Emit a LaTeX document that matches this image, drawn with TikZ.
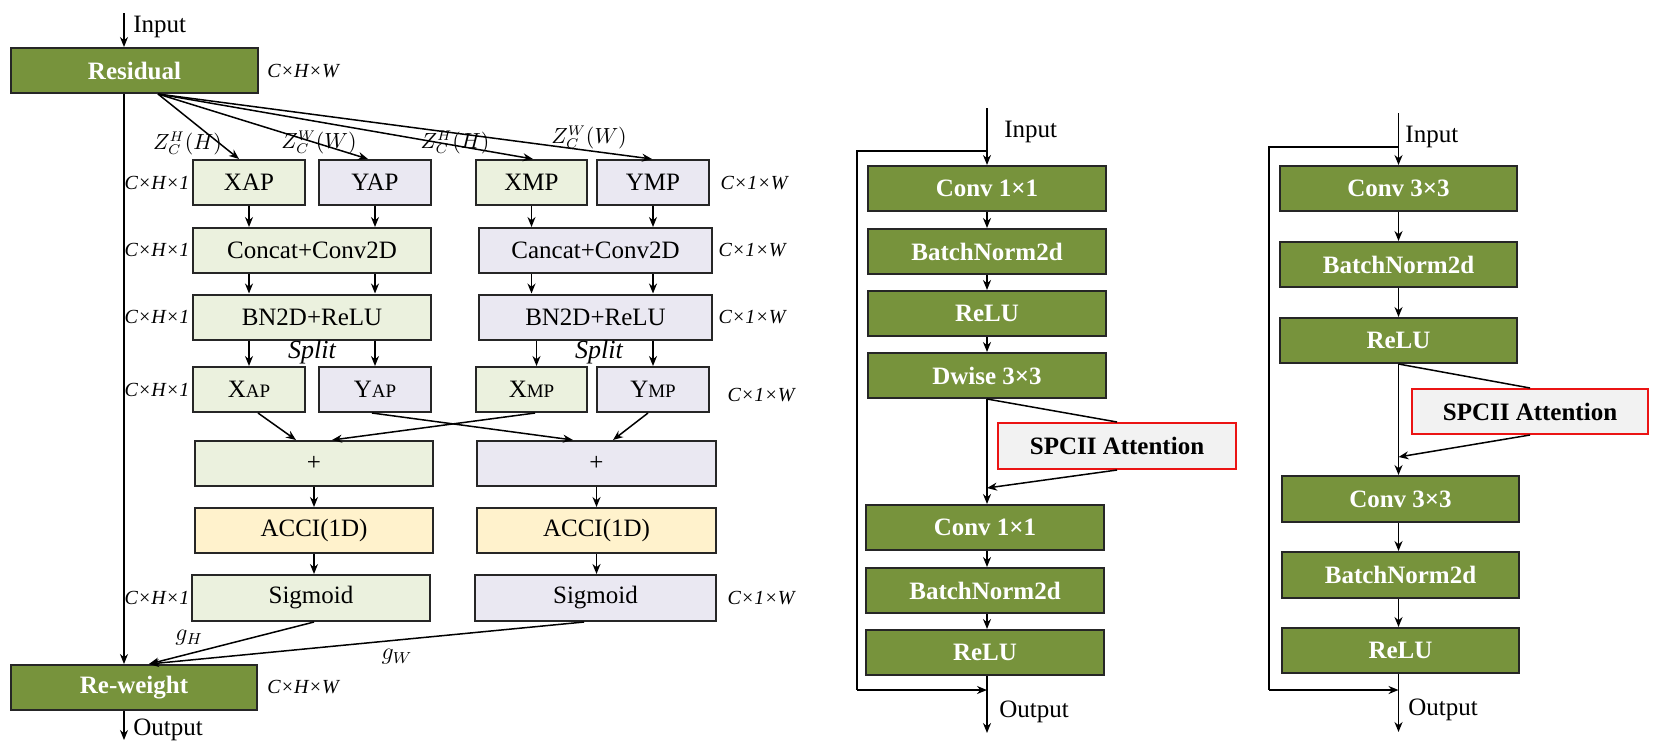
\documentclass[tikz,border=0pt]{standalone}
\usepackage{fontspec}
\setmainfont{Liberation Serif}
\usetikzlibrary{arrows.meta,calc}
\definecolor{NetGreen}{RGB}{119,147,60}
\definecolor{NetLightGreen}{RGB}{235,241,222}
\definecolor{NetLavender}{RGB}{234,232,242}
\definecolor{NetYellow}{RGB}{255,242,204}
\definecolor{NetGrey}{RGB}{242,242,242}
\definecolor{NetRed}{RGB}{235,20,20}

\tikzset{
  unitbox/.style={draw=black!85, line width=1pt, minimum height=22.5pt, inner sep=0pt, font=\fontsize{12.5}{14}\selectfont},
  greenbox/.style={unitbox, fill=NetGreen, text=white, font=\fontsize{12.5}{14}\selectfont\bfseries},
  hbox/.style={unitbox, fill=NetLightGreen},
  wbox/.style={unitbox, fill=NetLavender},
  accibox/.style={unitbox, fill=NetYellow},
  attbox/.style={unitbox, draw=NetRed, fill=NetGrey, font=\fontsize{12.5}{14}\selectfont\bfseries},
  dimlabel/.style={font=\fontsize{10}{12}\selectfont\itshape, inner sep=0pt},
  zlabel/.style={font=\fontsize{10.5}{12}\selectfont, inner sep=0pt},
  txt/.style={font=\fontsize{12.5}{14}\selectfont, inner sep=0pt, anchor=west},
  arr/.style={-{Stealth[length=5pt,width=4pt]}, line width=0.75pt},
  ln/.style={line width=0.75pt},
}
\newcommand{\smallsub}[1]{{\fontsize{9.5}{10}\selectfont #1}}

\begin{document}
\begin{tikzpicture}[x=0.5pt, y=-0.5pt]
  \useasboundingbox (0,0) rectangle (1657,745);

  % coordinate attention block
  \node[greenbox, minimum width=123.5pt] (res) at (134.5,70.5) {Residual};
  \node[dimlabel] (resdim) at (303,71) {C×H×W};
  \coordinate (inres) at (124,13);
  \node[txt] (intxt) at (133,27) {Input};
  \draw[arr] (inres) -- (inres |- res.north);

  \node[hbox, minimum width=56pt] (xap) at (249,182.5) {XAP};
  \node[wbox, minimum width=56pt] (yap) at (375,182.5) {YAP};
  \node[hbox, minimum width=55.5pt] (xmp) at (531.5,182.5) {XMP};
  \node[wbox, minimum width=56pt] (ymp) at (653,182.5) {YMP};

  \node[hbox, minimum width=119pt] (cch) at (312,250.5) {Concat+Conv2D};
  \node[wbox, minimum width=116.5pt] (ccw) at (595.5,250.5) {Cancat+Conv2D};
  \node[hbox, minimum width=119pt] (bnh) at (312,317) {BN2D+ReLU};
  \node[wbox, minimum width=116.5pt] (bnw) at (595.5,317) {BN2D+ReLU};

  \node[hbox, minimum width=56pt] (xaps) at (249,389.5) {X\smallsub{AP}};
  \node[wbox, minimum width=56pt] (yaps) at (375,389.5) {Y\smallsub{AP}};
  \node[hbox, minimum width=55.5pt] (xmps) at (531.5,389.5) {X\smallsub{MP}};
  \node[wbox, minimum width=56pt] (ymps) at (653,389.5) {Y\smallsub{MP}};

  \node[hbox, minimum width=119pt] (addh) at (314,463.5) {+};
  \node[wbox, minimum width=119.5pt] (addw) at (596.5,463.5) {+};
  \node[accibox, minimum width=119pt] (accih) at (314,530.5) {ACCI(1D)};
  \node[accibox, minimum width=119.5pt] (acciw) at (596.5,530.5) {ACCI(1D)};
  \node[hbox, minimum width=119pt, minimum height=23pt] (sigh) at (311,598) {Sigmoid};
  \node[wbox, minimum width=120.5pt, minimum height=23pt] (sigw) at (595.5,598) {Sigmoid};

  \node[greenbox, minimum width=123pt] (rew) at (134,687.5) {Re-weight};
  \node[dimlabel] (rewdim) at (303,687) {C×H×W};
  \coordinate (outl) at (124,740);
  \node[txt] (outtxt) at (133,730) {Output};

  % size labels
  \node[dimlabel] (dha) at (157,183) {C×H×1};
  \node[dimlabel] (dhb) at (157,250) {C×H×1};
  \node[dimlabel] (dhc) at (157,317) {C×H×1};
  \node[dimlabel] (dhd) at (157,390) {C×H×1};
  \node[dimlabel] (dhe) at (157,598) {C×H×1};
  \node[dimlabel] (dwa) at (754,183) {C×1×W};
  \node[dimlabel] (dwb) at (752,250) {C×1×W};
  \node[dimlabel] (dwc) at (752,317) {C×1×W};
  \node[dimlabel] (dwd) at (761,395) {C×1×W};
  \node[dimlabel] (dwe) at (761,598) {C×1×W};

  % pooling fan
  \coordinate (fan) at ($(res.south)+(23.5,0)$);
  \draw[arr] (fan) -- ($(xap.north)+(-10,0)$);
  \draw[arr] (fan) -- ($(yap.north)+(-7,0)$);
  \draw[arr] (fan) -- ($(xmp.north)+(1.5,0)$);
  \draw[arr] (fan) -- ($(ymp.north)+(-1,0)$);
  \node[zlabel] (zha) at (187.5,143) {$Z_C^H(H)$};
  \node[zlabel] (zwa) at (319,142) {$Z_C^W(W)$};
  \node[zlabel] (zhb) at (455,142) {$Z_C^H(H)$};
  \node[zlabel] (zwb) at (589,137) {$Z_C^W(W)$};

  \draw[arr] (res.south -| inres) -- (rew.north -| inres);

  \draw[arr] (xap.south) -- (xap.south |- cch.north);
  \draw[arr] (yap.south) -- (yap.south |- cch.north);
  \draw[arr] (xmp.south) -- (xmp.south |- ccw.north);
  \draw[arr] (ymp.south) -- (ymp.south |- ccw.north);
  \draw[arr] (cch.south -| xap) -- (bnh.north -| xap);
  \draw[arr] (cch.south -| yap) -- (bnh.north -| yap);
  \draw[arr] (ccw.south -| xmp) -- (bnw.north -| xmp);
  \draw[arr] (ccw.south -| ymp) -- (bnw.north -| ymp);
  \draw[arr] (bnh.south -| xaps) -- (xaps.north);
  \draw[arr] (bnh.south -| yaps) -- (yaps.north);
  \draw[arr] ($(bnw.south -| xmps)+(5,0)$) -- ($(xmps.north)+(5,0)$);
  \draw[arr] (bnw.south -| ymps) -- (ymps.north);
  \node[font=\fontsize{13}{14}\selectfont\itshape, inner sep=0pt] (splh) at (312,352) {Split};
  \node[font=\fontsize{13}{14}\selectfont\itshape, inner sep=0pt] (splw) at (599,352) {Split};

  \draw[arr] ($(xaps.south)+(9,0)$) -- ($(addh.north)+(-18,0)$);
  \draw[arr] ($(yaps.south)+(-3,0)$) -- ($(addw.north)+(-23.5,0)$);
  \draw[arr] ($(xmps.south)+(3.5,0)$) -- ($(addh.north)+(18,0)$);
  \draw[arr] ($(ymps.south)+(-5,0)$) -- ($(addw.north)+(16.5,0)$);

  \draw[arr] (addh.south) -- (accih.north);
  \draw[arr] (addw.south) -- (acciw.north);
  \draw[arr] (accih.south) -- (accih.south |- sigh.north);
  \draw[arr] (acciw.south) -- (acciw.south |- sigw.north);

  \coordinate (gin) at ($(rew.north)+(15,0)$);
  \draw[arr] ($(sigh.south)+(3,0)$) -- (gin);
  \draw[arr] ($(sigw.south)+(-11.5,0)$) -- (gin);
  \node[font=\fontsize{12}{14}\selectfont, inner sep=0pt] (gh) at (189,638) {$g_H$};
  \node[font=\fontsize{12}{14}\selectfont, inner sep=0pt] (gw) at (397,657) {$g_W$};

  \draw[arr] (rew.south -| outl) -- (outl);

  % inverted residual block
  \node[greenbox, minimum width=119pt] (mconva) at (987,188.5) {Conv 1×1};
  \node[greenbox, minimum width=119pt] (mbna) at (987,251.5) {BatchNorm2d};
  \node[greenbox, minimum width=119pt] (mrelua) at (987,313.5) {ReLU};
  \node[greenbox, minimum width=119pt] (mdw) at (987,375.5) {Dwise 3×3};
  \node[attbox, minimum width=119pt, minimum height=23pt] (matt) at (1117,446) {SPCII Attention};
  \node[greenbox, minimum width=119pt] (mconvb) at (985,527.5) {Conv 1×1};
  \node[greenbox, minimum width=119pt] (mbnb) at (985,590.5) {BatchNorm2d};
  \node[greenbox, minimum width=119pt] (mrelub) at (985,652.5) {ReLU};

  \coordinate (min) at (987,108);
  \coordinate (mskipa) at (857,151);
  \coordinate (mskipb) at (857,690);
  \coordinate (mjoin) at (987,488);
  \coordinate (mout) at (987,733);
  \node[txt] (mintxt) at (1004,132) {Input};
  \node[txt] (mouttxt) at (999,712) {Output};

  \draw[arr] (min) -- (mconva.north);
  \draw[ln] (mskipa -| min) -- (mskipa) -- (mskipb);
  \draw[arr] (mskipb) -- (mskipb -| mout);
  \draw[arr] (mconva.south) -- (mbna.north);
  \draw[arr] (mbna.south) -- (mrelua.north);
  \draw[arr] (mrelua.south) -- (mdw.north);
  \draw[ln] (mdw.south) -- (matt.north);
  \draw[arr] (matt.south) -- (mjoin);
  \draw[arr] (mdw.south) -- (mdw.south |- mconvb.north);
  \draw[arr] (mconvb.south -| mout) -- (mbnb.north -| mout);
  \draw[arr] (mbnb.south -| mout) -- (mrelub.north -| mout);
  \draw[arr] (mrelub.south -| mout) -- (mout);

  % basic residual block
  \node[greenbox, minimum width=118.5pt] (rconva) at (1398.5,188.5) {Conv 3×3};
  \node[greenbox, minimum width=118.5pt] (rbna) at (1398.5,264.5) {BatchNorm2d};
  \node[greenbox, minimum width=118.5pt] (rrelua) at (1398.5,340.5) {ReLU};
  \node[attbox, minimum width=118pt] (ratt) at (1530,411.5) {SPCII Attention};
  \node[greenbox, minimum width=118.5pt, minimum height=23pt] (rconvb) at (1400.5,499) {Conv 3×3};
  \node[greenbox, minimum width=118.5pt, minimum height=23pt] (rbnb) at (1400.5,575) {BatchNorm2d};
  \node[greenbox, minimum width=118.5pt] (rrelub) at (1400.5,650.5) {ReLU};

  \coordinate (rin) at (1398.5,113);
  \coordinate (rskipa) at (1269,147);
  \coordinate (rskipb) at (1269,690);
  \coordinate (rjoin) at (1398.5,457);
  \coordinate (rout) at (1398.5,732);
  \node[txt] (rintxt) at (1405,137) {Input};
  \node[txt] (routtxt) at (1408,710) {Output};

  \draw[arr] (rin) -- (rconva.north);
  \draw[ln] (rskipa -| rin) -- (rskipa) -- (rskipb);
  \draw[arr] (rskipb) -- (rskipb -| rout);
  \draw[arr] (rconva.south) -- (rbna.north);
  \draw[arr] (rbna.south) -- (rrelua.north);
  \draw[ln] (rrelua.south) -- (ratt.north);
  \draw[arr] (ratt.south) -- (rjoin);
  \draw[arr] (rrelua.south) -- (rrelua.south |- rconvb.north);
  \draw[arr] (rconvb.south -| rout) -- (rbnb.north -| rout);
  \draw[arr] (rbnb.south -| rout) -- (rrelub.north -| rout);
  \draw[arr] (rrelub.south -| rout) -- (rout);
\end{tikzpicture}
\end{document}
